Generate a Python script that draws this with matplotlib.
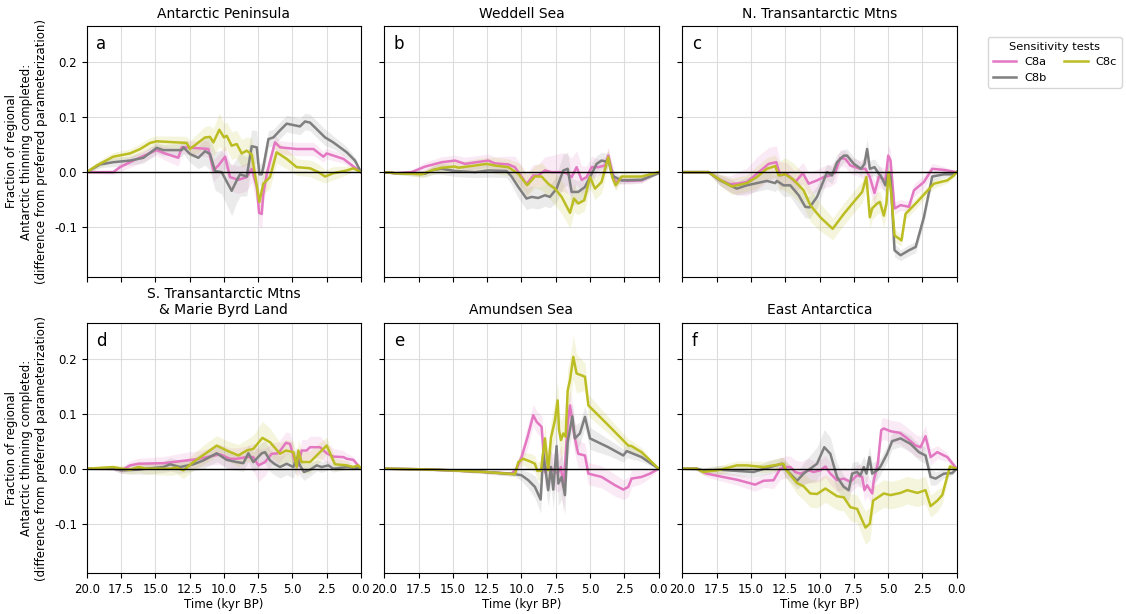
import numpy as np
import matplotlib
matplotlib.use("Agg")
import matplotlib.pyplot as plt

# ---- data: (time kyr BP, difference, band half-width) ----
A_C8A = [(20,0,0.002),(18.06,0,0.004),(17.57,0.009,0.008),(16.6,0.021,0.01),(14.9,0.040,0.01),(14.41,0.035,0.012),(13.32,0.026,0.015),(13.07,0.045,0.012),(12.71,0.045,0.012),(11.13,0.042,0.015),(10.76,0.003,0.02),(10.4,0.012,0.02),(9.91,0.028,0.02),(9.55,-0.009,0.025),(8.94,-0.014,0.025),(8.33,-0.009,0.025),(7.97,0.006,0.025),(7.6,-0.027,0.03),(7.43,-0.074,0.025),(7.24,-0.076,0.025),(7.12,-0.039,0.02),(6.87,-0.003,0.02),(6.27,0.054,0.012),(5.9,0.045,0.012),(4.69,0.042,0.012),(3.47,0.042,0.012),(2.74,0.028,0.01),(2.5,0.034,0.01),(1.28,0.024,0.008),(0,0,0.001)]
A_C8B = [(20,0,0.002),(19.03,0.014,0.006),(18.06,0.018,0.008),(16.84,0.021,0.008),(15.87,0.026,0.01),(14.9,0.044,0.01),(14.41,0.040,0.01),(13.07,0.040,0.012),(12.95,0.045,0.012),(12.47,0.033,0.015),(11.86,0.026,0.02),(11.37,0.038,0.025),(11.01,0.033,0.03),(10.64,0.002,0.035),(10.16,0.0,0.04),(9.43,-0.034,0.045),(9.06,-0.015,0.04),(8.82,-0.004,0.04),(8.33,-0.008,0.035),(7.97,0.047,0.03),(7.6,0.045,0.03),(7.41,-0.004,0.02),(7.24,-0.004,0.02),(7.12,0.009,0.02),(6.75,0.060,0.015),(6.39,0.063,0.015),(5.9,0.076,0.015),(5.42,0.088,0.015),(4.45,0.083,0.015),(4.08,0.092,0.015),(3.72,0.090,0.015),(2.62,0.063,0.015),(2.02,0.054,0.012),(1.04,0.036,0.01),(0.44,0.021,0.006),(0,0,0.001)]
A_C8C = [(20,0,0.002),(19.27,0.012,0.006),(18.06,0.028,0.008),(16.84,0.034,0.008),(16.1,0.042,0.01),(15.38,0.053,0.01),(14.9,0.056,0.01),(12.71,0.053,0.012),(12.47,0.042,0.015),(11.37,0.063,0.02),(11.01,0.064,0.02),(10.76,0.054,0.025),(10.33,0.077,0.03),(9.99,0.063,0.025),(9.79,0.066,0.025),(9.43,0.048,0.025),(9.06,0.051,0.025),(8.7,0.034,0.025),(8.33,0.039,0.025),(7.97,0.032,0.03),(7.41,-0.054,0.02),(7.12,-0.021,0.02),(6.63,-0.009,0.02),(6.15,0.036,0.02),(5.42,0.024,0.018),(4.69,0.009,0.015),(3.72,0.007,0.015),(3.11,0.0,0.015),(2.62,-0.008,0.012),(2.02,-0.002,0.012),(1.04,0.003,0.008),(0.56,0.007,0.005),(0,0,0.001)]

B_C8A = [(20,0,0.001),(19.22,-0.002,0.002),(18.0,0,0.004),(17.03,0.010,0.008),(15.81,0.018,0.01),(14.84,0.021,0.01),(14.12,0.015,0.012),(12.42,0.021,0.012),(11.94,0.016,0.012),(10.96,0.014,0.015),(10.48,0.009,0.02),(9.99,-0.008,0.02),(9.63,-0.022,0.02),(9.14,-0.006,0.02),(8.78,-0.006,0.02),(8.29,0.003,0.025),(7.8,0.0,0.03),(7.07,0.0,0.035),(6.71,-0.002,0.035),(6.34,-0.009,0.035),(5.98,0.009,0.03),(5.61,-0.014,0.025),(5.25,-0.009,0.02),(4.88,0.009,0.02),(4.4,0.009,0.015),(3.91,0.012,0.015),(3.67,0.030,0.015),(3.38,0.0,0.015),(3.13,-0.021,0.01),(2.94,-0.014,0.008),(2.21,-0.016,0.006),(1.24,-0.015,0.005),(0,0,0.002)]
B_C8B = [(20,0,0.001),(19.22,-0.002,0.002),(18.0,-0.003,0.004),(17.03,-0.003,0.006),(16.42,0.004,0.008),(15.81,0.006,0.01),(14.84,0.002,0.01),(13.38,0.0,0.01),(12.42,0.003,0.012),(11.08,0.002,0.012),(10.72,-0.008,0.015),(10.23,-0.027,0.02),(9.63,-0.048,0.02),(9.26,-0.045,0.02),(8.78,-0.047,0.02),(8.29,-0.042,0.02),(7.92,-0.045,0.02),(7.44,-0.030,0.025),(6.95,0.003,0.03),(6.63,0.006,0.03),(6.34,-0.036,0.025),(5.86,-0.036,0.02),(5.37,-0.027,0.02),(4.88,-0.003,0.02),(4.52,0.015,0.015),(4.16,0.021,0.015),(3.79,0.019,0.015),(3.67,0.024,0.015),(3.38,-0.006,0.012),(3.18,-0.009,0.01),(2.69,-0.015,0.006),(1.24,-0.014,0.005),(0,-0.002,0.002)]
B_C8C = [(20,0,0.001),(19.22,-0.002,0.002),(18.0,-0.003,0.004),(17.27,-0.004,0.006),(16.42,0.004,0.008),(15.81,0.008,0.01),(14.84,0.010,0.01),(14.6,0.008,0.01),(13.38,0.012,0.012),(12.53,0.015,0.012),(11.94,0.012,0.015),(10.96,0.009,0.015),(10.23,-0.003,0.02),(9.58,-0.024,0.02),(9.02,-0.008,0.02),(8.53,-0.008,0.025),(8.05,-0.021,0.025),(7.56,-0.030,0.03),(7.07,-0.045,0.03),(6.46,-0.074,0.028),(6.17,-0.048,0.025),(5.86,-0.057,0.02),(5.42,-0.051,0.02),(5.0,-0.009,0.02),(4.64,-0.030,0.02),(4.16,-0.018,0.02),(3.67,0.027,0.015),(3.38,-0.009,0.012),(3.13,-0.024,0.01),(2.69,-0.008,0.008),(1.24,-0.008,0.005),(0,0,0.002)]

C_C8A = [(20,0,0.001),(18.1,0,0.002),(17.25,-0.014,0.01),(16.52,-0.022,0.015),(16.03,-0.021,0.02),(15.3,-0.018,0.025),(14.57,-0.003,0.03),(13.71,0.015,0.03),(13.15,0.018,0.03),(12.86,-0.006,0.025),(12.38,-0.003,0.02),(11.77,-0.018,0.02),(11.21,-0.002,0.02),(10.79,-0.021,0.02),(10.18,-0.015,0.02),(9.7,-0.009,0.02),(9.21,-0.006,0.02),(8.84,0.0,0.02),(8.48,0.026,0.015),(8.11,0.024,0.015),(7.75,0.012,0.015),(7.02,0.006,0.015),(6.65,0.006,0.02),(6.33,-0.009,0.025),(5.99,-0.038,0.02),(5.67,-0.008,0.02),(5.19,-0.014,0.02),(4.99,0.030,0.02),(4.82,0.021,0.02),(4.53,-0.066,0.012),(4.09,-0.060,0.01),(3.48,-0.063,0.01),(3.11,-0.033,0.012),(2.39,-0.018,0.012),(1.78,0.006,0.01),(0.93,0.004,0.006),(0,0,0.001)]
C_C8B = [(20,0,0.001),(18.1,0,0.002),(17.25,-0.015,0.01),(16.03,-0.030,0.012),(15.3,-0.024,0.015),(13.84,-0.016,0.015),(13.23,-0.020,0.015),(13.11,-0.016,0.015),(12.62,-0.024,0.02),(12.13,-0.024,0.02),(11.52,-0.042,0.025),(11.04,-0.063,0.02),(10.72,-0.064,0.02),(10.18,-0.045,0.02),(9.45,0.0,0.015),(9.09,-0.006,0.015),(8.72,0.018,0.015),(8.23,0.030,0.012),(7.99,0.030,0.012),(7.5,0.015,0.012),(6.97,0.006,0.012),(6.72,0.015,0.015),(6.53,0.042,0.02),(6.33,0.006,0.015),(5.99,0.009,0.015),(5.67,-0.003,0.015),(5.55,-0.006,0.015),(5.19,-0.024,0.015),(4.97,0.0,0.015),(4.82,-0.009,0.015),(4.53,-0.142,0.012),(4.09,-0.151,0.01),(3.48,-0.142,0.01),(2.99,-0.136,0.01),(2.39,-0.082,0.012),(1.78,-0.008,0.008),(0.93,-0.004,0.006),(0.2,-0.004,0.003),(0,0,0.001)]
C_C8C = [(20,0,0.001),(18.1,0,0.002),(17.25,-0.014,0.01),(16.39,-0.026,0.015),(15.3,-0.020,0.015),(14.57,-0.009,0.02),(13.84,0.006,0.02),(13.23,0.011,0.02),(12.98,-0.006,0.025),(12.5,-0.004,0.03),(11.89,-0.014,0.03),(11.16,-0.033,0.03),(10.67,-0.060,0.03),(9.94,-0.082,0.025),(9.04,-0.103,0.02),(8.23,-0.076,0.02),(7.5,-0.054,0.02),(6.89,-0.036,0.02),(6.58,-0.009,0.02),(6.33,-0.082,0.02),(6.16,-0.066,0.02),(5.8,-0.057,0.02),(5.6,-0.054,0.02),(5.31,-0.079,0.02),(5.12,-0.057,0.02),(4.97,0.0,0.015),(4.77,-0.039,0.015),(4.53,-0.115,0.012),(4.02,-0.124,0.01),(3.73,-0.076,0.01),(2.87,-0.054,0.01),(1.66,-0.021,0.008),(0.68,-0.015,0.005),(0.2,-0.006,0.003),(0,0,0.001)]

D_C8A = [(20,0,0.001),(18.06,0,0.003),(17.45,-0.003,0.006),(16.84,0.006,0.008),(16.23,0.009,0.01),(14.41,0.010,0.012),(12.71,0.015,0.015),(11.98,0.017,0.015),(11.25,0.021,0.015),(10.28,0.026,0.018),(9.55,0.018,0.02),(9.06,0.018,0.02),(8.34,0.021,0.02),(7.85,0.021,0.025),(7.48,0.006,0.03),(7.0,0.012,0.025),(6.51,0.027,0.02),(6.03,0.028,0.02),(5.47,0.047,0.02),(5.18,0.045,0.02),(4.81,0.012,0.02),(4.57,0.006,0.02),(4.33,0.033,0.02),(3.96,0.033,0.02),(3.72,0.039,0.02),(2.99,0.039,0.02),(2.5,0.028,0.018),(2.02,0.022,0.015),(1.29,0.021,0.012),(1.04,0.018,0.01),(0.56,0.016,0.006),(0,0,0.001)]
D_C8B = [(20,0,0.001),(18.06,0,0.003),(17.45,-0.003,0.006),(16.35,-0.002,0.008),(15.63,0.0,0.01),(14.41,0.003,0.01),(13.92,0.008,0.012),(13.2,0.003,0.012),(12.22,0.008,0.012),(11.49,0.015,0.015),(10.52,0.028,0.015),(9.79,0.016,0.015),(9.06,0.012,0.015),(8.58,0.010,0.015),(8.21,0.028,0.015),(7.85,0.012,0.018),(7.24,0.028,0.02),(7.0,0.030,0.02),(6.63,0.015,0.02),(6.27,0.008,0.02),(5.9,0.003,0.02),(5.42,0.009,0.02),(4.93,0.003,0.02),(4.69,0.020,0.02),(4.45,0.006,0.018),(4.16,-0.006,0.015),(3.72,-0.002,0.012),(3.23,0.006,0.01),(2.87,0.003,0.01),(2.38,0.006,0.008),(2.02,0.0,0.006),(1.04,0.003,0.004),(0,0,0.001)]
D_C8C = [(20,0,0.001),(18.06,0.003,0.003),(17.45,0.0,0.006),(16.84,-0.002,0.008),(16.23,0.003,0.01),(15.63,0.0,0.01),(13.92,0.0,0.012),(13.44,0.002,0.012),(12.95,-0.003,0.015),(12.22,0.012,0.015),(11.37,0.027,0.018),(10.52,0.042,0.018),(9.79,0.033,0.018),(8.94,0.024,0.02),(8.34,0.033,0.02),(7.85,0.036,0.025),(7.19,0.056,0.03),(6.63,0.048,0.025),(5.9,0.027,0.02),(5.47,0.033,0.02),(4.93,0.030,0.02),(4.69,0.003,0.02),(4.57,0.033,0.02),(4.33,0.012,0.02),(3.72,0.012,0.02),(3.11,0.027,0.018),(2.5,0.042,0.015),(1.9,0.008,0.012),(1.04,0.006,0.008),(0.56,0.003,0.005),(0.2,0.006,0.003),(0,0,0.001)]

E_C8A = [(20,0,0.001),(17.52,-0.001,0.002),(15.09,-0.003,0.002),(12.66,-0.006,0.003),(10.72,-0.009,0.004),(10.35,0.0,0.01),(9.99,0.021,0.015),(9.55,0.058,0.02),(9.14,0.097,0.02),(8.89,0.085,0.02),(8.53,0.076,0.02),(8.29,-0.006,0.03),(8.05,0.006,0.03),(7.68,-0.003,0.03),(7.36,-0.009,0.035),(7.12,0.003,0.04),(6.95,-0.033,0.045),(6.83,0.003,0.04),(6.63,0.082,0.035),(6.46,0.115,0.03),(6.15,0.061,0.03),(5.86,0.027,0.025),(5.37,0.024,0.022),(5.12,-0.009,0.02),(4.15,-0.015,0.02),(3.18,-0.030,0.02),(2.57,-0.038,0.018),(2.21,-0.033,0.018),(1.97,-0.018,0.015),(1.24,-0.015,0.012),(0.63,-0.009,0.008),(0,0,0.001)]
E_C8B = [(20,0,0.001),(17.52,-0.001,0.002),(15.09,-0.003,0.002),(12.66,-0.006,0.003),(10.47,-0.010,0.004),(9.99,-0.012,0.01),(9.5,-0.021,0.015),(9.02,-0.033,0.02),(8.6,-0.056,0.025),(8.41,0.028,0.03),(8.24,-0.003,0.03),(8.05,-0.039,0.03),(7.85,0.003,0.035),(7.68,-0.038,0.035),(7.44,0.041,0.04),(7.31,-0.027,0.04),(7.07,-0.015,0.04),(6.83,-0.048,0.035),(6.63,0.048,0.03),(6.29,0.095,0.025),(6.1,0.055,0.025),(5.74,0.064,0.02),(5.37,0.094,0.02),(5.0,0.055,0.02),(3.67,0.039,0.015),(2.57,0.024,0.012),(2.33,0.032,0.012),(1.24,0.021,0.008),(0,0,0.001)]
E_C8C = [(20,0,0.001),(17.52,-0.001,0.002),(15.09,-0.003,0.002),(12.66,-0.006,0.003),(10.47,-0.010,0.004),(10.23,0.012,0.01),(9.87,0.018,0.012),(9.26,0.012,0.015),(9.02,0.009,0.015),(8.85,-0.004,0.015),(8.58,-0.004,0.02),(8.29,0.055,0.025),(8.05,-0.003,0.03),(7.85,0.056,0.03),(7.56,0.088,0.035),(7.36,0.124,0.035),(7.26,0.070,0.035),(7.12,0.052,0.035),(6.95,0.064,0.035),(6.78,0.058,0.035),(6.63,0.142,0.04),(6.46,0.161,0.04),(6.22,0.203,0.04),(5.98,0.173,0.035),(5.37,0.167,0.025),(5.12,0.115,0.02),(3.67,0.079,0.015),(2.21,0.042,0.012),(1.97,0.041,0.01),(1.24,0.030,0.008),(0,0,0.001)]

F_C8A = [(20,0,0.001),(18.95,0,0.003),(18.22,-0.009,0.006),(17.25,-0.014,0.008),(16.03,-0.020,0.01),(14.69,-0.029,0.012),(14.08,-0.022,0.012),(13.35,-0.021,0.015),(12.86,0.0,0.02),(12.5,0.003,0.02),(12.13,0.003,0.02),(11.77,-0.006,0.022),(11.4,-0.009,0.022),(10.79,-0.003,0.022),(10.43,-0.006,0.02),(9.94,-0.003,0.02),(9.57,0.004,0.02),(9.21,-0.009,0.02),(8.72,-0.021,0.02),(8.23,-0.018,0.02),(7.75,-0.024,0.02),(7.26,-0.012,0.02),(6.89,-0.015,0.02),(6.72,-0.039,0.02),(6.53,-0.030,0.02),(6.16,-0.045,0.02),(6.04,-0.021,0.02),(5.75,0.009,0.02),(5.5,0.070,0.02),(5.31,0.073,0.02),(4.82,0.068,0.02),(4.14,0.065,0.02),(3.6,0.055,0.02),(2.99,0.042,0.02),(2.63,0.039,0.02),(2.27,0.059,0.02),(1.9,0.021,0.015),(1.41,0.030,0.012),(0.68,0.021,0.008),(0,0,0.002)]
F_C8B = [(20,0,0.001),(18.95,0,0.004),(18.47,-0.004,0.006),(17.25,-0.002,0.008),(14.81,-0.006,0.01),(13.59,0.003,0.012),(12.74,0.009,0.012),(12.5,0.0,0.015),(11.64,-0.022,0.015),(11.16,-0.009,0.02),(10.67,0.0,0.025),(10.18,0.009,0.03),(9.65,0.039,0.032),(9.21,0.027,0.03),(8.72,-0.015,0.025),(8.23,-0.033,0.02),(7.87,-0.039,0.02),(7.62,-0.009,0.02),(7.26,-0.006,0.02),(7.02,-0.012,0.02),(6.77,0.003,0.02),(6.58,-0.009,0.02),(6.36,0.021,0.02),(6.16,-0.009,0.02),(5.8,-0.003,0.018),(5.55,0.004,0.015),(5.07,0.027,0.015),(4.7,0.050,0.015),(4.09,0.055,0.015),(3.36,0.045,0.015),(2.75,0.030,0.015),(2.27,0.024,0.015),(1.9,-0.015,0.015),(1.53,-0.018,0.012),(0.93,-0.009,0.008),(0.32,-0.008,0.004),(0,0,0.001)]
F_C8C = [(20,0,0.001),(18.95,0,0.003),(18.47,-0.006,0.006),(17.25,-0.002,0.008),(16.03,0.006,0.008),(15.3,0.006,0.008),(14.08,0.003,0.01),(12.62,0.009,0.012),(12.5,0.0,0.015),(11.64,-0.026,0.02),(11.16,-0.032,0.025),(10.67,-0.045,0.025),(10.18,-0.046,0.025),(9.57,-0.036,0.025),(9.21,-0.042,0.025),(8.72,-0.050,0.025),(8.23,-0.052,0.025),(7.75,-0.070,0.025),(7.26,-0.073,0.025),(6.65,-0.107,0.03),(6.33,-0.100,0.03),(6.09,-0.058,0.025),(5.31,-0.045,0.025),(4.82,-0.048,0.025),(4.09,-0.044,0.025),(3.6,-0.039,0.025),(2.87,-0.044,0.025),(2.27,-0.039,0.025),(1.9,-0.068,0.02),(1.41,-0.058,0.02),(1.05,-0.048,0.015),(0.49,0.004,0.008),(0,0,0.002)]

TITLES = ["Antarctic Peninsula", "Weddell Sea", "N. Transantarctic Mtns",
          "S. Transantarctic Mtns\n& Marie Byrd Land", "Amundsen Sea", "East Antarctica"]
LETTERS = ["a", "b", "c", "d", "e", "f"]
SERIES_NAMES = ["C8a", "C8b", "C8c"]
PANELS = [[A_C8A, A_C8B, A_C8C], [B_C8A, B_C8B, B_C8C], [C_C8A, C_C8B, C_C8C],
          [D_C8A, D_C8B, D_C8C], [E_C8A, E_C8B, E_C8C], [F_C8A, F_C8B, F_C8C]]
COLORS = ["#e377c2", "#7f7f7f", "#bcbd22"]
XTICKS = [20.0, 17.5, 15.0, 12.5, 10.0, 7.5, 5.0, 2.5, 0.0]
YTICKS = [-0.1, 0.0, 0.1, 0.2]

fig = plt.figure(figsize=(11.26, 6.14), dpi=100)
lefts = [0.0770, 0.3413, 0.6060]
bottoms = [0.5493, 0.0663]
w, h = 0.2436, 0.4080
axes = []
for r in range(2):
    for c in range(3):
        axes.append(fig.add_axes([lefts[c], bottoms[r], w, h]))

handles = []
for i, ax in enumerate(axes):
    for j, data in enumerate(PANELS[i]):
        arr = np.array(data, dtype=float)
        t, y, e = arr[:, 0], arr[:, 1], arr[:, 2]
        ax.fill_between(t, y - e, y + e, color=COLORS[j], alpha=0.15, lw=0)
        ln, = ax.plot(t, y, color=COLORS[j], lw=1.8, label=SERIES_NAMES[j])
        if i == 0:
            handles.append(ln)
    ax.axhline(0, color="black", lw=1.0, zorder=5)
    ax.set_xlim(20, 0)
    ax.set_ylim(-0.19, 0.265)
    ax.set_xticks(XTICKS)
    ax.set_yticks(YTICKS)
    ax.grid(True, color="#dddddd", lw=0.8)
    ax.set_axisbelow(True)
    ax.tick_params(labelsize=8.5)
    ax.set_title(TITLES[i], fontsize=10)
    ax.text(0.035, 0.965, LETTERS[i], transform=ax.transAxes, fontsize=12,
            va="top", ha="left")
    r, c = divmod(i, 3)
    if r == 1:
        ax.set_xticklabels([f"{v:.1f}" for v in XTICKS])
        ax.set_xlabel("Time (kyr BP)", fontsize=8.5, labelpad=1.5)
    else:
        ax.set_xticklabels([])
    if c == 0:
        ax.set_yticklabels([f"{v:.1f}" for v in YTICKS])
        ax.set_ylabel("Fraction of regional\nAntarctic thinning completed:\n(difference from preferred parameterization)",
                      fontsize=8.5)
    else:
        ax.set_yticklabels([])

fig.legend(handles=handles, labels=SERIES_NAMES, title="Sensitivity tests", ncol=2,
           loc="upper left", bbox_to_anchor=(0.8774, 0.9397), fontsize=8.2,
           title_fontsize=8.2, handlelength=2.1, handletextpad=0.7,
           columnspacing=1.5, borderaxespad=0)

fig.savefig("out.png", dpi=100)
